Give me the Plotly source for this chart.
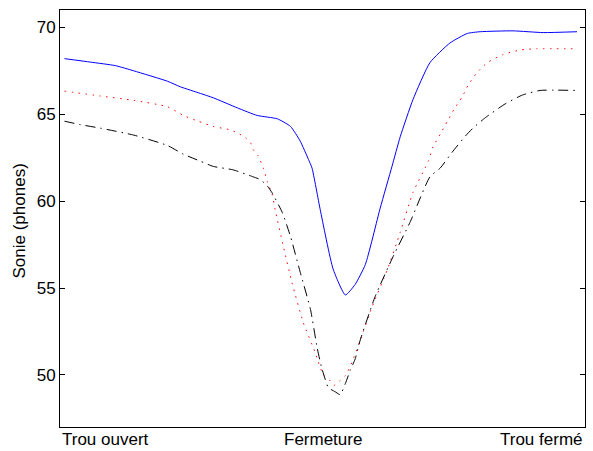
import plotly.graph_objects as go

# Loudness over a hole-closing gesture (0 = open hole, 100 = closed hole)
x_solid = [0, 5.1, 9.9, 13.5, 20.1, 22.6, 26.5, 29.0, 33.7, 37.6, 41.5, 44.1, 46.0,
           47.6, 48.3, 49.9, 52.4, 54.8, 56.7, 58.7, 61.6, 63.9, 65.5, 68.0, 71.3,
           75.2, 78.6, 81.1, 87.5, 93.4, 100]
y_solid = [68.2, 68.0, 67.8, 67.5, 66.9, 66.58, 66.2, 65.95, 65.37, 64.93, 64.74, 64.3, 63.45,
           62.4, 61.9, 59.5, 56.1, 54.6, 55.2, 56.35, 59.6, 62.0, 63.7, 65.85, 67.97,
           69.1, 69.65, 69.75, 69.8, 69.7, 69.75]

x_dot = [0, 7.0, 13.5, 20.1, 23.4, 26.1, 29.0, 32.4, 33.9, 35.3, 36.3, 36.8, 37.8, 38.8,
         39.6, 40.5, 41.1, 42.7, 44.4, 46.6, 48.9, 49.5, 50.5, 51.7, 52.6, 53.8, 54.8,
         56.1, 57.7, 60.0, 63.0, 65.5, 68.0, 71.0, 71.9, 73.3, 74.7, 76.0, 77.6, 78.8,
         80.5, 82.5, 85.6, 88.9, 92.2, 100]
y_dot = [66.33, 66.05, 65.8, 65.43, 64.9, 64.6, 64.3, 64.1, 63.9, 63.65, 63.36, 62.97, 62.6, 61.9,
         61.1, 60.4, 59.5, 57.4, 55.3, 53.0, 51.3, 50.76, 50.0, 49.7, 49.4, 49.68, 49.95,
         50.72, 52.0, 53.9, 56.06, 58.2, 60.5, 62.3, 63.13, 63.84, 64.6, 65.28, 66.0, 66.7,
         67.4, 67.97, 68.44, 68.7, 68.77, 68.77]

x_dashdot = [0, 3.1, 7.0, 13.5, 20.1, 23.2, 26.5, 29.0, 32.9, 36.8, 38.2, 39.6, 40.5,
             42.5, 44.1, 46.0, 48.0, 49.3, 50.1, 50.7, 51.5, 52.8, 53.8, 54.8, 55.8,
             56.7, 57.7, 60.6, 64.1, 67.4, 71.3, 73.3, 75.6, 78.2, 79.7, 82.1, 86.0,
             89.3, 92.8, 100]
y_dashdot = [64.6, 64.4, 64.2, 63.8, 63.2, 62.7, 62.3, 62.0, 61.8, 61.4, 61.24, 60.86, 60.48,
             59.34, 57.96, 55.9, 53.76, 51.55, 50.5, 49.9, 49.26, 49.03, 48.86, 49.5, 50.3,
             50.9, 52.0, 54.5, 56.8, 58.77, 61.4, 61.9, 62.8, 63.74, 64.2, 64.8, 65.6,
             66.1, 66.37, 66.37]

y_ticks = [50, 55, 60, 65, 70]
phase_labels = ["Trou ouvert", "Fermeture", "Trou fermé"]

FONT = "Arial, Liberation Sans, Helvetica, sans-serif"
SIZE = 17

fig = go.Figure()
fig.add_trace(go.Scatter(x=x_solid, y=y_solid, mode="lines",
                         line=dict(color="#0000ff", width=1, shape="spline", smoothing=0.5)))
fig.add_trace(go.Scatter(x=x_dot, y=y_dot, mode="lines",
                         line=dict(color="#ff0000", width=1, dash="1.5px,5.5px",
                                   shape="spline", smoothing=0.5)))
fig.add_trace(go.Scatter(x=x_dashdot, y=y_dashdot, mode="lines",
                         line=dict(color="#000000", width=1, dash="10px,5px,1.5px,5px",
                                   shape="spline", smoothing=0.5)))

fig.update_layout(
    width=593, height=451,
    margin=dict(l=60, r=8, t=10, b=24),
    paper_bgcolor="white", plot_bgcolor="white",
    showlegend=False,
    font=dict(family=FONT, size=SIZE, color="black"),
)
fig.update_xaxes(range=[-0.88, 101.56], showgrid=False, zeroline=False,
                 showticklabels=False, ticks="",
                 showline=True, linecolor="black", linewidth=1, mirror=True)
fig.update_yaxes(range=[47, 71], tickvals=y_ticks, showgrid=False, zeroline=False,
                 ticks="inside", ticklen=5, tickcolor="black", tickwidth=1,
                 showline=True, linecolor="black", linewidth=1, mirror="ticks",
                 tickfont=dict(family=FONT, size=SIZE, color="black"))

# Y-axis title
fig.add_annotation(text="Sonie (phones)", textangle=-90, xref="paper", yref="paper",
                   x=0, y=0.5, xanchor="center", yanchor="middle", xshift=-41, yshift=-3,
                   showarrow=False, font=dict(family=FONT, size=SIZE, color="black"))

# Phase labels along the bottom
for label, xpos, anchor in zip(phase_labels, [0, 0.5, 1], ["left", "center", "right"]):
    fig.add_annotation(text=label, xref="paper", yref="paper", x=xpos, y=0,
                       xanchor=anchor, yanchor="top", yshift=-1, showarrow=False,
                       font=dict(family=FONT, size=SIZE, color="black"))

fig.write_html("out.html")
